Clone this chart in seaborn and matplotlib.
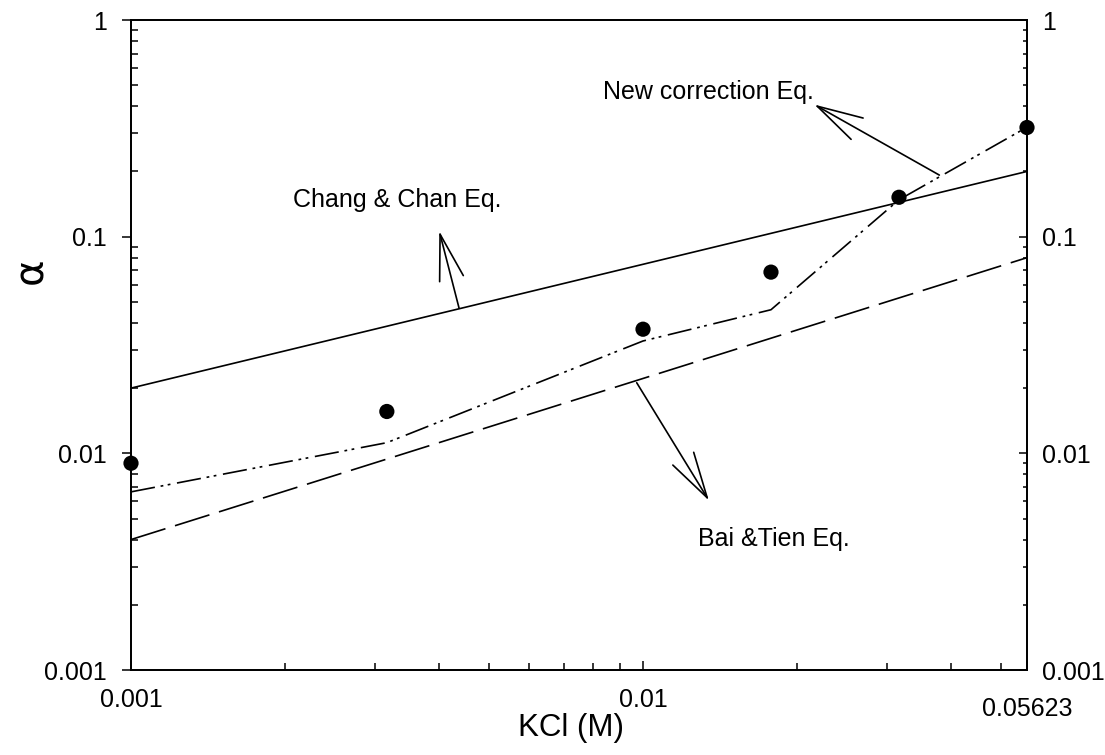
import numpy as np
import pandas as pd
import matplotlib
matplotlib.use("Agg")
import matplotlib.pyplot as plt
from matplotlib import font_manager
from matplotlib.ticker import LogLocator, NullFormatter
import seaborn as sns

# KCl concentration (M) and measured alpha
kcl_points = [0.001, 0.00316, 0.01, 0.01778, 0.03162, 0.05623]
alpha_measured = [0.0090, 0.0156, 0.0374, 0.0686, 0.152, 0.319]

# New correction equation
kcl_new = [0.001, 0.00316, 0.01, 0.01778, 0.03162, 0.05623]
alpha_new = [0.00664, 0.0112, 0.0330, 0.0460, 0.148, 0.320]

# Chang & Chan equation
kcl_chang = [0.001, 0.05623]
alpha_chang = [0.020, 0.200]

# Bai & Tien equation
kcl_bai = [0.001, 0.05623]
alpha_bai = [0.0040, 0.080]

x_ticks = [0.001, 0.01, 0.05623]
x_tick_labels = ["0.001", "0.01", "0.05623"]
y_ticks = [0.001, 0.01, 0.1, 1]
y_tick_labels = ["0.001", "0.01", "0.1", "1"]

sns.set_style("ticks")
plt.rcParams["font.family"] = ["Liberation Sans", "DejaVu Sans"]
plt.rcParams["lines.scale_dashes"] = False
for key in ("axes.edgecolor", "xtick.color", "ytick.color", "text.color",
            "axes.labelcolor", "xtick.labelcolor", "ytick.labelcolor"):
    plt.rcParams[key] = "black"

W, H = 1105, 755
fig = plt.figure(figsize=(W / 100, H / 100), dpi=100)
ax = fig.add_axes([131 / W, 85 / H, 896 / W, 650 / H])
ax.set_xscale("log")
ax.set_yscale("log")

chang_df = pd.DataFrame({"KCl": kcl_chang, "alpha": alpha_chang})
bai_df = pd.DataFrame({"KCl": kcl_bai, "alpha": alpha_bai})
new_df = pd.DataFrame({"KCl": kcl_new, "alpha": alpha_new})
meas_df = pd.DataFrame({"KCl": kcl_points, "alpha": alpha_measured})

LW = 1.2
sns.lineplot(data=chang_df, x="KCl", y="alpha", ax=ax, color="black",
             linewidth=LW, estimator=None, sort=False)
sns.lineplot(data=bai_df, x="KCl", y="alpha", ax=ax, color="black",
             linewidth=LW, estimator=None, sort=False,
             linestyle=(0, (26, 7.2)))
sns.lineplot(data=new_df, x="KCl", y="alpha", ax=ax, color="black",
             linewidth=LW, estimator=None, sort=False,
             linestyle=(0, (17.5, 4.2, 2.0, 3.2, 2.0, 4.8)))
sns.scatterplot(data=meas_df, x="KCl", y="alpha", ax=ax, color="black",
                s=120, edgecolor="none", zorder=4, clip_on=False, legend=False)

ax.set_xlim(0.001, 0.05623)
ax.set_ylim(0.001, 1)

ax.set_xticks(x_ticks, labels=x_tick_labels)
ax.xaxis.set_minor_locator(LogLocator(base=10, subs=np.arange(2, 10), numticks=20))
ax.xaxis.set_minor_formatter(NullFormatter())
ax.set_yticks(y_ticks, labels=y_tick_labels)
ax.yaxis.set_minor_locator(LogLocator(base=10, subs=np.arange(2, 10), numticks=20))
ax.yaxis.set_minor_formatter(NullFormatter())

ax.tick_params(axis="x", which="both", direction="in", top=False, bottom=True,
               width=1.1, labelsize=18, pad=13.3)
ax.tick_params(axis="x", which="major", length=6.5)
ax.tick_params(axis="x", which="minor", length=4.7)
ax.tick_params(axis="y", which="major", direction="out", length=6.8, width=1.1,
               left=True, right=False, labelsize=18, pad=10.4)
ax.tick_params(axis="y", which="minor", direction="in", length=4.7, width=1.1,
               left=True, right=False)
# last x label sits a little lower
ax.xaxis.get_major_ticks()[2].set_pad(19.8)

# right-hand alpha axis with inward ticks
ax2 = ax.twinx()
ax2.set_yscale("log")
ax2.set_ylim(0.001, 1)
ax2.set_yticks(y_ticks, labels=y_tick_labels)
ax2.yaxis.set_minor_locator(LogLocator(base=10, subs=np.arange(2, 10), numticks=20))
ax2.yaxis.set_minor_formatter(NullFormatter())
ax2.tick_params(axis="y", which="major", direction="in", length=5.8, width=1.1,
                labelsize=18, pad=10.8)
ax2.tick_params(axis="y", which="minor", direction="in", length=3.2, width=1.1)

for a in (ax, ax2):
    for sp in a.spines.values():
        sp.set_visible(True)
        sp.set_linewidth(1.3)
        sp.set_color("black")

try:
    font_manager.findfont("Liberation Sans Narrow", fallback_to_default=False)
    xlabel_font, xlabel_size = "Liberation Sans Narrow", 26.5
except ValueError:
    xlabel_font, xlabel_size = "Liberation Sans", 22.5

ax.set_xlabel("KCl (M)", fontsize=xlabel_size, family=[xlabel_font, "DejaVu Sans"])
ax.xaxis.set_label_coords(0.491, -0.0662)
ax.set_ylabel("α", fontsize=29, family=["DejaVu Sans"])
ax.yaxis.set_label_coords(-0.0895, 0.6138)

# annotation arrows
arrow_kw = dict(arrowstyle="->,head_length=3.3,head_width=0.88", color="black",
                lw=1.2, shrinkA=0, shrinkB=0, mutation_scale=10)
ax.annotate("", xy=(0.0040, 0.1061), xytext=(0.004372, 0.04684), arrowprops=arrow_kw)
ax.annotate("", xy=(0.02161, 0.4071), xytext=(0.03791, 0.1924), arrowprops=arrow_kw)
ax.annotate("", xy=(0.01345, 0.006056), xytext=(0.009721, 0.02117), arrowprops=arrow_kw)

ax.text(0.002072, 0.1369, "Chang & Chan Eq.", fontsize=18, ha="left", va="baseline")
ax.text(0.008354, 0.4302, "New correction Eq.", fontsize=18, ha="left", va="baseline")
ax.text(0.0128, 0.003735, "Bai &Tien Eq.", fontsize=18, ha="left", va="baseline")

fig.savefig("out.png", dpi=100)
